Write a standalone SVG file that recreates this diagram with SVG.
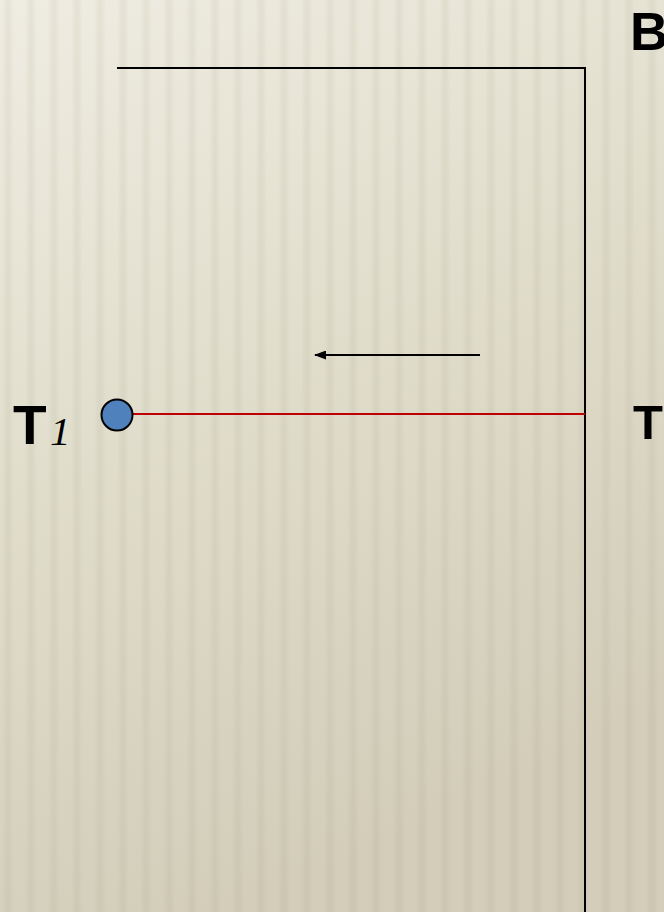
<svg xmlns="http://www.w3.org/2000/svg" width="664" height="912" viewBox="0 0 664 912">
  <defs>
    <linearGradient id="bg" x1="0" y1="0" x2="0.35" y2="1">
      <stop offset="0" stop-color="#efede2"/>
      <stop offset="0.5" stop-color="#e0ddcc"/>
      <stop offset="1" stop-color="#d3cdb9"/>
    </linearGradient>
    <linearGradient id="band" x1="0" y1="0" x2="1" y2="0">
      <stop offset="0" stop-color="#8a805f" stop-opacity="0"/>
      <stop offset="0.5" stop-color="#8a805f" stop-opacity="0.1"/>
      <stop offset="1" stop-color="#8a805f" stop-opacity="0"/>
    </linearGradient>
    <pattern id="stripes" x="0" y="0" width="23" height="912" patternUnits="userSpaceOnUse">
      <rect x="2" y="0" width="12" height="912" fill="url(#band)"/>
    </pattern>
    <marker id="arrow" markerWidth="12" markerHeight="9" refX="11" refY="4.5" orient="auto" markerUnits="userSpaceOnUse">
      <path d="M0,0 L12,4.5 L0,9 Z" fill="#000"/>
    </marker>
    <style>
      .lbl { font-family: "Liberation Sans", Arial, sans-serif; font-weight: bold; fill: #000; }
      .sub { font-family: "Liberation Serif", "Times New Roman", serif; font-style: italic; fill: #000; }
      .line { stroke: #000; stroke-width: 2; fill: none; }
    </style>
  </defs>
  <rect width="664" height="912" fill="url(#bg)"/>
  <rect width="664" height="912" fill="url(#stripes)"/>

  <g id="connectors">
    <polyline class="line" points="117,68 585,68 585,912"/>
    <line x1="132" y1="414" x2="585" y2="414" stroke="#c00000" stroke-width="2"/>
    <line class="line" x1="480" y1="355" x2="315" y2="355" marker-end="url(#arrow)"/>
  </g>

  <g id="node-T1">
    <circle cx="117" cy="415" r="15.5" fill="#4f81bd" stroke="#000" stroke-width="2"/>
    <text class="lbl" x="13" y="444" font-size="55">T</text>
    <text class="sub" x="50" y="445" font-size="41">1</text>
  </g>

  <g id="node-T">
    <text class="lbl" x="633" y="439" font-size="49">T</text>
  </g>

  <g id="node-B">
    <text class="lbl" x="630" y="50" font-size="53">B</text>
  </g>
</svg>
